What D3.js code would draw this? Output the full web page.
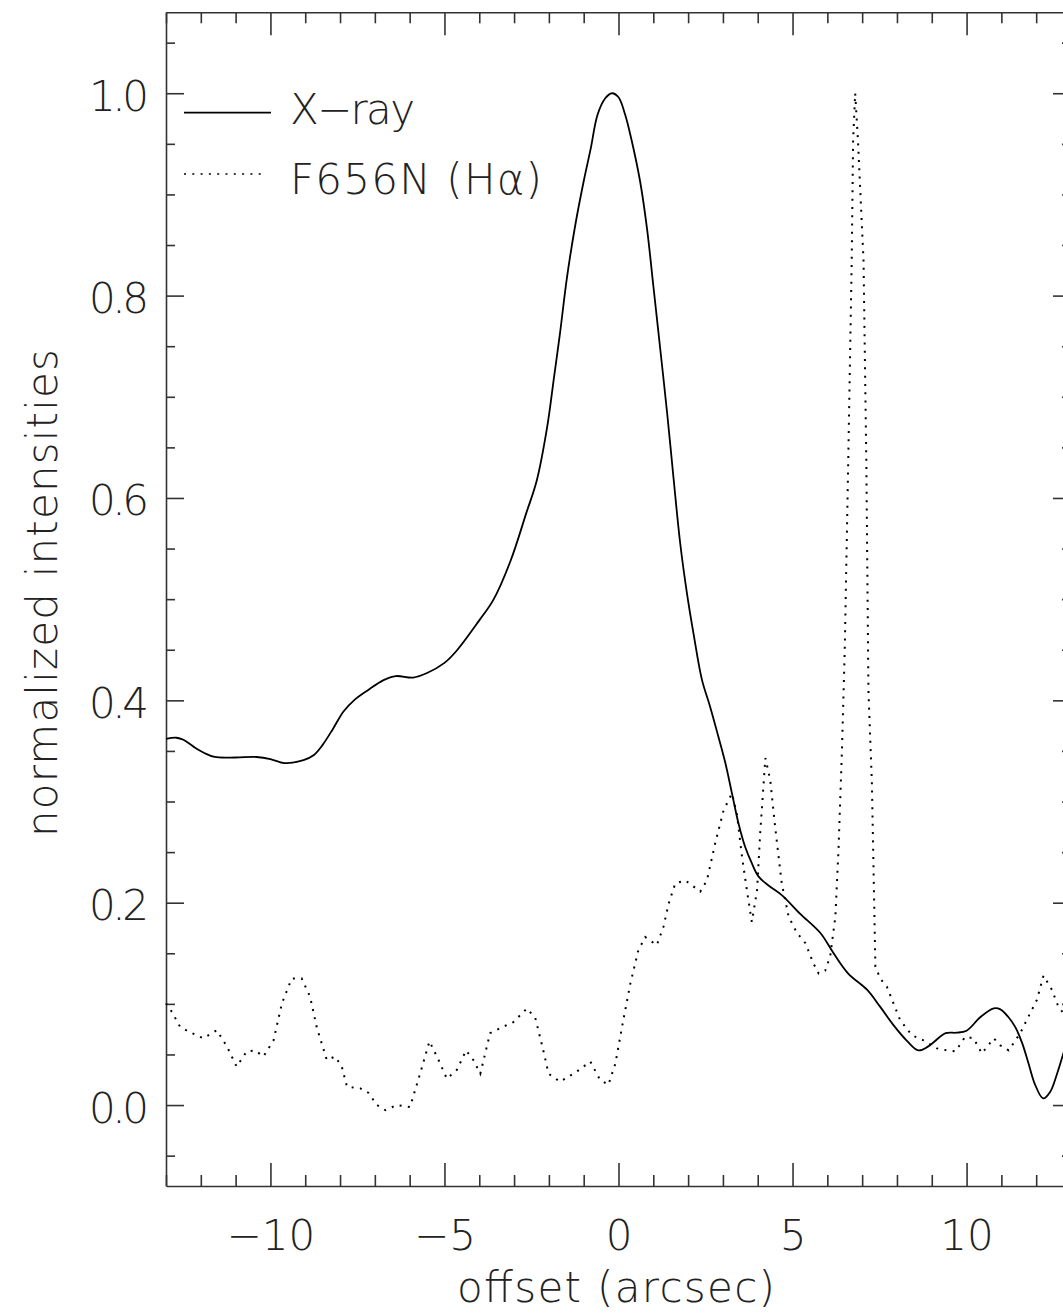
<!DOCTYPE html>
<html>
<head>
<meta charset="utf-8">
<script src="https://cdn.jsdelivr.net/npm/d3@7"></script>
<style>
  body { margin: 0; background: #fff; }
  svg { display: block; }
  text { font-family: "DejaVu Sans", sans-serif; font-weight: 200; fill: #222; }
</style>
</head>
<body>
<div id="chart"></div>
<script>
// ===== DATA =====
const xrayX = [-13.0, -12.7, -12.5, -12.2, -11.9, -11.6, -11.0, -10.4, -10.0, -9.6, -9.05, -8.75, -8.5, -8.2,
  -7.9, -7.6, -7.2, -6.75, -6.4, -5.9, -5.5, -5.0, -4.65, -4.0, -3.6, -3.1, -2.65, -2.35, -2.05, -1.85,
  -1.68, -1.48, -1.24, -1.0, -0.8, -0.6, -0.38, -0.19, 0.0, 0.19, 0.38, 0.62, 0.82, 1.0, 1.2, 1.4, 1.58,
  1.77, 1.97, 2.16, 2.4, 2.63, 2.87, 3.07, 3.26, 3.45, 3.64, 3.83, 4.02, 4.31, 4.69, 5.22, 5.8, 6.18, 6.6,
  7.14, 7.52, 7.9, 8.3, 8.62, 8.9, 9.4, 9.7, 10.0, 10.4, 10.78, 10.97, 11.2, 11.4, 11.6, 11.78, 11.97,
  12.2, 12.4, 12.6, 12.78, 13.0];
const xrayY = [0.362, 0.363, 0.361, 0.354, 0.348, 0.344, 0.3435, 0.344, 0.342, 0.338, 0.341, 0.346, 0.356, 0.372,
  0.389, 0.400, 0.410, 0.420, 0.424, 0.4225, 0.427, 0.437, 0.449, 0.479, 0.499, 0.538, 0.585, 0.617, 0.670, 0.720,
  0.763, 0.818, 0.870, 0.913, 0.945, 0.979, 0.995, 1.0, 0.996, 0.979, 0.953, 0.913, 0.866, 0.810, 0.747, 0.683, 0.620,
  0.556, 0.505, 0.465, 0.420, 0.394, 0.364, 0.338, 0.308, 0.278, 0.255, 0.239, 0.226, 0.217, 0.2075, 0.189, 0.170, 0.150, 0.130,
  0.114, 0.097, 0.079, 0.063, 0.054, 0.058, 0.071, 0.0715, 0.0735, 0.087, 0.0955, 0.0946, 0.087, 0.077, 0.061, 0.041, 0.020,
  0.0066, 0.013, 0.031, 0.051, 0.075];

const haX = [-13.0, -12.83, -12.59, -12.31, -11.93, -11.54, -11.25, -10.97, -10.68, -10.44, -10.2, -9.91, -9.67,
  -9.39, -9.1, -8.86, -8.67, -8.38, -8.14, -7.95, -7.8, -7.42, -7.18, -6.94, -6.7, -6.37, -5.99, -5.7, -5.43,
  -5.17, -4.93, -4.64, -4.38, -4.17, -3.97, -3.69, -3.4, -3.02, -2.63, -2.39, -2.16, -2.01, -1.68, -1.2, -0.81,
  -0.53, -0.29, -0.09, 0.1, 0.34, 0.57, 0.77, 1.1, 1.29, 1.44, 1.63, 1.92, 2.35, 2.54, 2.78, 3.02, 3.26, 3.4,
  3.55, 3.69, 3.83, 3.98, 4.07, 4.22, 4.36, 4.5, 4.69, 4.89, 5.13, 5.37, 5.6, 5.75, 5.94, 6.08, 6.23, 6.32,
  6.42, 6.5, 6.6, 6.7, 6.74, 6.8, 6.88, 7.04, 7.12, 7.18, 7.28, 7.38, 7.52, 7.71, 7.9, 8.09, 8.43, 8.76,
  9.15, 9.44, 9.68, 9.96, 10.2, 10.44, 10.78, 10.97, 11.21, 11.54, 11.83, 12.02, 12.21, 12.45, 12.64, 12.78, 13.0];
const haY = [0.1005, 0.092, 0.077, 0.072, 0.066, 0.074, 0.058, 0.038, 0.053, 0.054, 0.048, 0.064, 0.1005,
  0.125, 0.125, 0.107, 0.077, 0.0445, 0.048, 0.038, 0.018, 0.0165, 0.012, 0.0, -0.005, 0.0, -0.002, 0.031, 0.063,
  0.0445, 0.026, 0.035, 0.054, 0.0445, 0.031, 0.071, 0.076, 0.082, 0.0955, 0.086, 0.054, 0.031, 0.023, 0.033, 0.043,
  0.025, 0.020, 0.041, 0.077, 0.120, 0.153, 0.166, 0.158, 0.176, 0.199, 0.219, 0.222, 0.211, 0.222, 0.259, 0.2915, 0.308, 0.288,
  0.245, 0.212, 0.181, 0.212, 0.2685, 0.343, 0.321, 0.275, 0.219, 0.186, 0.170, 0.160, 0.140, 0.130, 0.133, 0.1465, 0.186, 0.252,
  0.351, 0.45, 0.636, 0.834, 0.953, 1.0, 0.953, 0.834, 0.636, 0.41, 0.318, 0.137, 0.125, 0.117, 0.1005, 0.084, 0.069, 0.064,
  0.056, 0.054, 0.053, 0.0675, 0.066, 0.051, 0.066, 0.059, 0.054, 0.071, 0.091, 0.104, 0.128, 0.114, 0.097, 0.091, 0.08];

const xMajorTicks = [-10, -5, 0, 5, 10];
const yMajorTicks = [0.0, 0.2, 0.4, 0.6, 0.8, 1.0];
const legendLabels = ["X\u2212ray", "F656N (H\u03b1)"];

// ===== LAYOUT =====
const W = 1063, H = 1316;
const FONT = 42;

const x = d3.scaleLinear().domain([-13, 13]).range([166, 1071]);
const y = d3.scaleLinear().domain([-0.08, 1.08]).range([1186, 12.3]);

const xMinorTicks = d3.range(-13, 14, 1).filter(v => !xMajorTicks.includes(v));
const yMinorTicks = d3.range(-1, 22).map(i => +(i * 0.05).toFixed(2)).filter(v => Math.round(v * 100) % 20 !== 0);

const svg = d3.select("#chart").append("svg")
  .attr("width", W)
  .attr("height", H);

svg.append("rect").attr("width", W).attr("height", H).attr("fill", "#fff");

// ===== AXES =====
function addAxis(axis, tx, ty, keepDomain) {
  const g = svg.append("g").attr("transform", `translate(${tx},${ty})`).call(axis);
  g.selectAll("line").attr("stroke", "#333").attr("stroke-width", 1.6);
  g.select(".domain").attr("stroke", "#333").attr("stroke-width", 1.6);
  if (!keepDomain) g.select(".domain").remove();
  g.selectAll("text").style("font-size", FONT + "px").attr("fill", "#222");
  return g;
}

// bottom
const gBottom = addAxis(d3.axisBottom(x).tickValues(xMajorTicks).tickSizeInner(-23).tickSizeOuter(0)
  .tickFormat(d3.format("d")), 0, y.range()[0], true);
gBottom.selectAll("text").attr("y", 64).attr("dy", 0);
addAxis(d3.axisBottom(x).tickValues(xMinorTicks).tickSizeInner(-11).tickSizeOuter(0).tickFormat(""), 0, y.range()[0], false);

// top
addAxis(d3.axisTop(x).tickValues(xMajorTicks).tickSizeInner(-23).tickSizeOuter(0).tickFormat(""), 0, y.range()[1], true);
addAxis(d3.axisTop(x).tickValues(xMinorTicks).tickSizeInner(-11).tickSizeOuter(0).tickFormat(""), 0, y.range()[1], false);

// left
const gLeft = addAxis(d3.axisLeft(y).tickValues(yMajorTicks).tickSizeInner(-18).tickSizeOuter(0)
  .tickFormat(d3.format(".1f")), x.range()[0], 0, true);
gLeft.selectAll("text").attr("x", -17).attr("dy", 0).attr("y", 17).attr("textLength", 60);
addAxis(d3.axisLeft(y).tickValues(yMinorTicks).tickSizeInner(-9).tickSizeOuter(0).tickFormat(""), x.range()[0], 0, false);

// right
addAxis(d3.axisRight(y).tickValues(yMajorTicks).tickSizeInner(-18).tickSizeOuter(0).tickFormat(""), x.range()[1], 0, true);
addAxis(d3.axisRight(y).tickValues(yMinorTicks).tickSizeInner(-9).tickSizeOuter(0).tickFormat(""), x.range()[1], 0, false);

// axis titles
svg.append("text")
  .attr("x", 616).attr("y", 1302)
  .attr("text-anchor", "middle")
  .attr("textLength", 318)
  .style("font-size", FONT + "px")
  .text("offset (arcsec)");

svg.append("text")
  .attr("transform", "translate(57,593) rotate(-90)")
  .attr("text-anchor", "middle")
  .attr("textLength", 488)
  .style("font-size", FONT + "px")
  .text("normalized intensities");

// ===== CURVES =====
const smoothLine = d3.line()
  .x(d => x(d[0]))
  .y(d => y(d[1]))
  .curve(d3.curveCatmullRom);

const plainLine = d3.line()
  .x(d => x(d[0]))
  .y(d => y(d[1]));

svg.append("path")
  .datum(xrayX.map((v, i) => [v, xrayY[i]]))
  .attr("fill", "none")
  .attr("stroke", "#000")
  .attr("stroke-width", 1.8)
  .attr("d", smoothLine);

svg.append("path")
  .datum(haX.map((v, i) => [v, haY[i]]))
  .attr("fill", "none")
  .attr("stroke", "#000")
  .attr("stroke-width", 2)
  .attr("stroke-dasharray", "2,6.3")
  .attr("d", plainLine);

// ===== LEGEND =====
const legend = svg.append("g");
legend.append("line")
  .attr("x1", 184).attr("x2", 271).attr("y1", 112.7).attr("y2", 112.7)
  .attr("stroke", "#000").attr("stroke-width", 1.8);
legend.append("line")
  .attr("x1", 184).attr("x2", 267).attr("y1", 174).attr("y2", 174)
  .attr("stroke", "#000").attr("stroke-width", 1.6)
  .attr("stroke-dasharray", "2,6.3");

legend.append("text")
  .attr("x", 290).attr("y", 124)
  .attr("textLength", 125)
  .style("font-size", FONT + "px")
  .text(legendLabels[0]);

legend.append("text")
  .attr("x", 290).attr("y", 194)
  .attr("textLength", 252)
  .style("font-size", FONT + "px")
  .text(legendLabels[1]);
</script>
</body>
</html>
